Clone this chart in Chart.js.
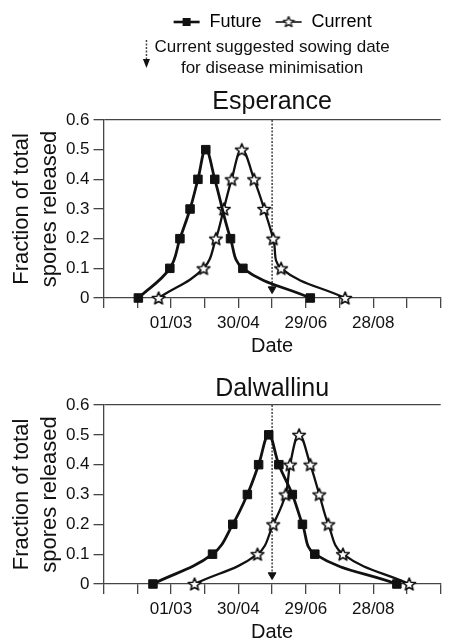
<!DOCTYPE html>
<html>
<head>
<meta charset="utf-8">
<script src="https://cdn.jsdelivr.net/npm/chart.js@4/dist/chart.umd.min.js"></script>
<style>
  html, body { margin: 0; padding: 0; background: #fff; }
  .box { position: relative; width: 449px; }
  #top { height: 354px; }
  #bottom { height: 286px; }
</style>
</head>
<body>
<div class="box" id="top"><canvas id="esperanceChart"></canvas></div>
<div class="box" id="bottom"><canvas id="dalwallinuChart"></canvas></div>
<script>
// x = day of year (01/03 = day 60), y = fraction of total spores released
const tickDays = [60, 120, 180, 240];
const tickLabels = ["01/03", "30/04", "29/06", "28/08"];
const sowingDay = 150;

const esperanceFutureDays = [31, 59, 68, 77, 84, 91, 99, 113, 124, 184];
const esperanceFutureValues = [0, 0.1, 0.2, 0.3, 0.4, 0.5, 0.4, 0.2, 0.1, 0];
const esperanceCurrentDays = [49, 89, 100, 107, 114, 123, 134, 143, 151, 158, 215];
const esperanceCurrentValues = [0, 0.1, 0.2, 0.3, 0.4, 0.5, 0.4, 0.3, 0.2, 0.1, 0];

const dalwallinuFutureDays = [44, 97, 115, 128, 138, 147, 156, 168, 177, 188, 261];
const dalwallinuFutureValues = [0, 0.1, 0.2, 0.3, 0.4, 0.5, 0.4, 0.3, 0.2, 0.1, 0];
const dalwallinuCurrentDays = [81, 137, 151, 162, 166, 174, 184, 192, 200, 213, 272];
const dalwallinuCurrentValues = [0, 0.1, 0.2, 0.3, 0.4, 0.5, 0.4, 0.3, 0.2, 0.1, 0];

const noteLines = ["Current suggested sowing date", "for disease minimisation"];
const yTitleLines = ["Fraction of total", "spores released"];

const ink = "#111";
const axisColor = "#454545";
Chart.defaults.font.family = '"Liberation Sans", Arial, sans-serif';
Chart.defaults.color = ink;

function starImage(size, outer, inner, lw) {
  const c = document.createElement("canvas");
  c.width = size; c.height = size;
  const g = c.getContext("2d");
  const cx = size / 2, cy = size / 2 + 0.6;
  g.beginPath();
  for (let i = 0; i < 10; i++) {
    const r = i % 2 ? inner : outer;
    const a = -Math.PI / 2 + i * Math.PI / 5;
    g.lineTo(cx + r * Math.cos(a), cy + r * Math.sin(a));
  }
  g.closePath();
  g.fillStyle = "#fff"; g.fill();
  g.lineJoin = "round";
  g.lineWidth = lw; g.strokeStyle = ink; g.stroke();
  return c;
}

function legendIcon(kind) {
  const c = document.createElement("canvas");
  c.width = 28; c.height = 14;
  const g = c.getContext("2d");
  g.strokeStyle = ink;
  g.lineWidth = kind === "square" ? 2.6 : 1.6;
  g.beginPath(); g.moveTo(1, 7); g.lineTo(27, 7); g.stroke();
  if (kind === "square") {
    g.fillStyle = ink; g.fillRect(10, 3, 8, 8);
  } else {
    g.drawImage(starImage(13, 5.6, 2.5, 1.3), 7.5, 0);
  }
  return c;
}

const starPoint = starImage(16, 6.6, 2.9, 1.6);

// small dotted arrow drawn left of the note text
const noteArrow = {
  id: "noteArrow",
  afterDraw(chart) {
    const { ctx, chartArea } = chart;
    ctx.save();
    ctx.font = '17px "Liberation Sans", Arial, sans-serif';
    const w = ctx.measureText(noteLines[0]).width;
    const x = (chartArea.left + chartArea.right) / 2 - w / 2 - 8;
    ctx.strokeStyle = axisColor;
    ctx.lineWidth = 1.5;
    ctx.setLineDash([2, 1.5]);
    ctx.beginPath(); ctx.moveTo(x, 40); ctx.lineTo(x, 60); ctx.stroke();
    ctx.setLineDash([]);
    ctx.fillStyle = ink;
    ctx.beginPath(); ctx.moveTo(x - 3.5, 59); ctx.lineTo(x + 3.5, 59); ctx.lineTo(x, 68); ctx.closePath(); ctx.fill();
    ctx.restore();
  }
};

function toPoints(days, values) {
  return days.map((d, i) => ({ x: d, y: values[i] }));
}

function buildChart(id, place, futureDays, futureValues, currentDays, currentValues, withHeader) {
  const datasets = [
    {
      label: "Future",
      data: toPoints(futureDays, futureValues),
      borderColor: ink, borderWidth: 2.8,
      tension: 0.4,
      pointStyle: "rect", pointRadius: 6, pointBorderWidth: 1,
      pointBackgroundColor: ink, pointBorderColor: ink,
      clip: false
    },
    {
      label: "Current",
      data: toPoints(currentDays, currentValues),
      borderColor: ink, borderWidth: 2.3,
      tension: 0.4,
      pointStyle: starPoint, pointRadius: 6,
      clip: false
    },
    {
      label: "Sowing date",
      data: [{ x: sowingDay, y: 0.6 }, { x: sowingDay, y: 0.03 }],
      borderColor: axisColor, borderWidth: 1.5, borderDash: [2, 1.5],
      tension: 0,
      pointStyle: "triangle", pointRotation: 180,
      pointRadius: [0, 4.5], pointBackgroundColor: ink, pointBorderColor: ink, pointBorderWidth: 1,
      clip: false
    }
  ];

  const plugins = {
    tooltip: { enabled: false },
    legend: withHeader ? {
      display: true, position: "top", fullSize: false, weight: 3000,
      labels: {
        usePointStyle: true, pointStyleWidth: 28, padding: 13,
        font: { size: 18 }, color: ink,
        generateLabels: () => [
          { text: "Future", pointStyle: legendIcon("square"), fillStyle: ink, strokeStyle: ink, lineWidth: 0, hidden: false, datasetIndex: 0 },
          { text: "Current", pointStyle: legendIcon("star"), fillStyle: "#fff", strokeStyle: ink, lineWidth: 0, hidden: false, datasetIndex: 1 }
        ]
      }
    } : { display: false },
    subtitle: withHeader ? {
      display: true, text: noteLines, fullSize: false, weight: 2500,
      font: { size: 17, lineHeight: 1.235 }, color: ink,
      padding: { top: -4, bottom: 0 }
    } : { display: false },
    title: {
      display: true, text: place, fullSize: false, weight: 2000,
      font: { size: 25, weight: "normal", lineHeight: 1.2 }, color: ink,
      padding: withHeader ? { top: 8, bottom: 3 } : { top: 20, bottom: 1 }
    }
  };

  return new Chart(document.getElementById(id), {
    type: "line",
    data: { datasets },
    options: {
      responsive: true, maintainAspectRatio: false, animation: false,
      layout: { padding: { left: 0, right: 0, top: 0, bottom: 0 } },
      plugins,
      scales: {
        x: {
          type: "linear", min: 0, max: 300,
          ticks: {
            stepSize: 30, autoSkip: false, maxRotation: 0, padding: 6.5,
            font: { size: 17, lineHeight: 1 }, color: ink,
            callback: v => {
              const i = tickDays.indexOf(v);
              return i >= 0 ? tickLabels[i] : "";
            }
          },
          grid: { drawOnChartArea: false, tickLength: 10, color: axisColor, tickColor: axisColor, lineWidth: 1.3 },
          border: { color: axisColor, width: 1.3 },
          title: { display: true, text: "Date", font: { size: 20, lineHeight: 1.2 }, color: ink, padding: { top: -4, bottom: -4 } }
        },
        y: {
          min: 0, max: 0.6,
          ticks: {
            stepSize: 0.1, padding: 4,
            font: { size: 17, lineHeight: 1 }, color: ink,
            callback: v => (Math.abs(v) < 1e-9 ? "0" : v.toFixed(1))
          },
          grid: {
            color: c => (c.tick && Math.abs(c.tick.value - 0.6) < 1e-9 ? axisColor : "rgba(0,0,0,0)"),
            tickColor: axisColor, tickLength: 10, lineWidth: 1.3
          },
          border: { color: axisColor, width: 1.3 },
          title: { display: true, text: yTitleLines, font: { size: 22, lineHeight: 1.27 }, color: ink, padding: { top: 8, bottom: -2 } }
        }
      }
    },
    plugins: withHeader ? [noteArrow] : []
  });
}

buildChart("esperanceChart", "Esperance",
  esperanceFutureDays, esperanceFutureValues, esperanceCurrentDays, esperanceCurrentValues, true);
buildChart("dalwallinuChart", "Dalwallinu",
  dalwallinuFutureDays, dalwallinuFutureValues, dalwallinuCurrentDays, dalwallinuCurrentValues, false);
</script>
</body>
</html>
